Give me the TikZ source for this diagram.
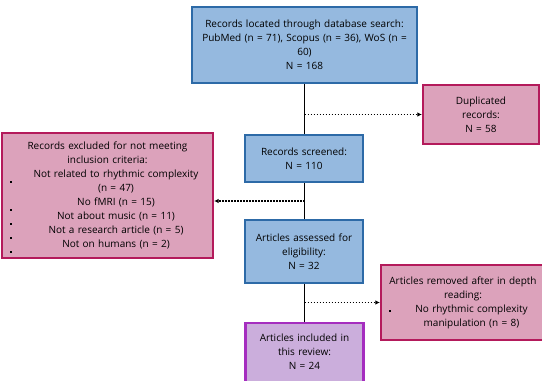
\documentclass[tikz,border=0pt]{standalone}
\usepackage{fontspec}
\setmainfont{Open Sans}
\usetikzlibrary{arrows.meta,backgrounds}
\definecolor{bfill}{HTML}{95B9DF}
\definecolor{bdraw}{HTML}{2D6AA7}
\definecolor{pfill}{HTML}{DCA2BB}
\definecolor{pdraw}{HTML}{B41A5B}
\definecolor{vfill}{HTML}{CBAEDC}
\definecolor{vdraw}{HTML}{A52DBF}
\newcommand\bmark[1]{\raisebox{#1}[0pt][0pt]{\rule{1.8pt}{1.8pt}}}
\newcommand\bline[3]{\makebox[\linewidth][l]{\makebox[17pt][l]{\hspace*{4pt}#1}\makebox[\dimexpr\linewidth-17pt\relax]{#3}}}
\begin{document}
\begin{tikzpicture}[x=1pt,y=-1pt,
  box/.style={draw, line width=2.2pt, align=center, inner sep=4pt,
    font=\fontsize{10}{14}\selectfont},
  bluebox/.style={box, fill=bfill, draw=bdraw},
  pinkbox/.style={box, fill=pfill, draw=pdraw},
  purplebox/.style={box, fill=vfill, draw=vdraw},
  darrow/.style={line width=1.6pt, dash pattern=on 1.5pt off 1.5pt, -{Latex[length=4.5pt,width=4.5pt]}},
  vline/.style={line width=1.5pt, black}]
\useasboundingbox (0,0) rectangle (542,381);

\node[bluebox, text width=217pt, minimum height=76pt] (top) at (304.5,45)
  {Records located through database search:\\ PubMed (n = 71), Scopus (n = 36), WoS (n =\\ 60)\\ N = 168};
\node[pinkbox, text width=108pt, minimum height=59pt] (dup) at (481,114.5)
  {Duplicated\\ records:\\ N = 58};
\node[pinkbox, text width=203pt, minimum height=125pt] (left) at (107.5,195.5)
  {Records excluded for not meeting\\ inclusion criteria:\\
   \bline{\bmark{-5pt}}{}{Not related to rhythmic complexity}\\
   \bline{}{}{(n = 47)}\\
   \bline{\bmark{-5pt}}{}{No fMRI (n = 15)}\\
   \bline{\bmark{-5pt}}{}{Not about music (n = 11)}\\
   \bline{\bmark{-5pt}}{}{Not a research article (n = 5)}\\
   \bline{\bmark{-5pt}}{}{Not on humans (n = 2)}};
\node[bluebox, text width=110pt, minimum height=47pt] (scr) at (304,158.5)
  {Records screened:\\ N = 110};
\node[bluebox, text width=110pt, minimum height=63pt] (ass) at (304,251.5)
  {Articles assessed for\\ eligibility:\\ N = 32};
\node[pinkbox, text width=156pt, minimum height=75pt] (rem) at (463,302.5)
  {Articles removed after in depth\\ reading:\\
   \bline{\bmark{0.5pt}}{}{No rhythmic complexity}\\
   \bline{}{}{manipulation (n = 8)}};
\node[purplebox, text width=110pt, text height=14pt, text depth=50pt, anchor=north] (incl) at (304.5,322)
  {Articles included in\\ this review:\\ N = 24};

\begin{pgfonlayer}{background}
  \draw[vline] (top.south) -- (incl.north);
\end{pgfonlayer}

\coordinate (j1) at (top.south |- dup.west);
\coordinate (j2) at (304.5,201);
\coordinate (j3) at (top.south |- rem.west);
\draw[darrow] (j1) -- (dup.west);
\draw[darrow] (j2) -- (j2 -| left.east);
\draw[darrow] (j3) -- (rem.west);
\end{tikzpicture}
\end{document}
